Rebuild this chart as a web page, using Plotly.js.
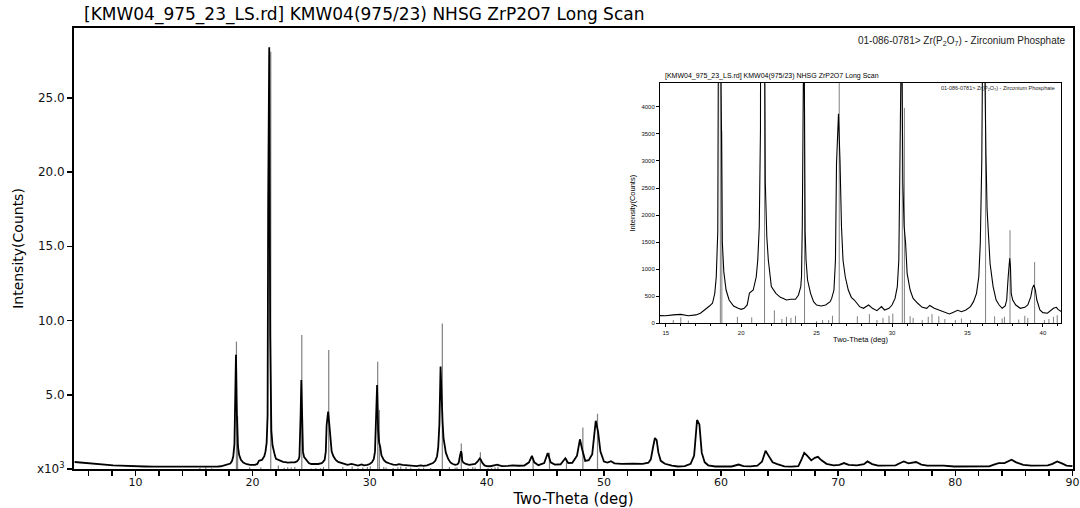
<!DOCTYPE html>
<html><head><meta charset="utf-8">
<script src="https://cdn.plot.ly/plotly-3.0.1.min.js"></script>
<style>html,body{margin:0;padding:0;background:#fff}#chart{width:1080px;height:508px}</style>
</head><body><div id="chart"></div>
<script>
// Measured scan: 2-theta (deg) and intensity (counts)
const twoTheta = [4.8,5.3,5.8,6.5,7.0,7.6,8.1,8.7,9.2,10.0,10.8,11.6,12.4,13.2,14.0,14.62,15.0,15.5,16.0,16.5,17.0,17.3,17.6,17.9,18.0,18.1,18.25,18.35,18.45,18.5,18.58,18.66,18.75,18.85,19.0,19.2,19.5,19.8,20.0,20.2,20.4,20.55,20.65,20.8,21.0,21.1,21.2,21.28,21.33,21.42,21.5,21.6,21.7,21.8,21.9,22.0,22.3,22.6,22.8,23.0,23.3,23.6,23.8,23.95,24.0,24.05,24.1,24.16,24.24,24.3,24.4,24.6,24.8,25.0,25.3,25.6,25.9,26.0,26.15,26.25,26.32,26.38,26.45,26.55,26.65,26.75,26.9,27.1,27.3,27.5,27.66,27.85,28.1,28.45,28.7,29.0,29.3,29.5,29.8,30.0,30.2,30.35,30.45,30.55,30.63,30.72,30.8,30.9,31.0,31.2,31.4,31.7,32.0,32.3,32.5,32.8,33.1,33.5,33.8,34.0,34.35,34.6,34.9,35.2,35.4,35.6,35.75,35.85,35.95,36.05,36.15,36.22,36.3,36.4,36.5,36.7,36.9,37.1,37.3,37.5,37.6,37.7,37.75,37.8,37.85,37.9,38.0,38.2,38.5,38.8,39.0,39.2,39.3,39.4,39.5,39.6,39.8,40.0,40.3,40.5,40.7,40.9,41.0,41.3,41.8,42.2,42.7,43.2,43.6,43.85,44.05,44.4,44.9,45.2,45.45,45.8,46.3,46.7,46.95,47.3,47.7,47.95,48.15,48.4,48.7,49.0,49.3,49.5,49.7,50.0,50.3,50.6,50.9,51.5,52.5,53.3,53.8,54.0,54.2,54.35,54.5,54.65,54.85,55.2,55.8,56.3,56.9,57.4,57.7,57.95,58.15,58.35,58.6,58.9,59.5,60.2,60.9,61.5,61.9,62.5,63.1,63.5,63.8,64.05,64.4,64.8,65.4,66.0,66.6,66.9,67.1,67.35,67.7,68.0,68.27,68.55,69.0,69.6,70.1,70.5,70.9,71.6,72.2,72.5,72.9,73.4,74.2,74.9,75.3,75.6,76.0,76.3,76.65,77.1,77.6,78.3,79.0,79.9,80.8,81.8,82.3,82.9,83.3,83.7,84.2,84.5,84.8,85.2,85.8,86.5,87.2,87.9,88.3,88.7,89.1,89.5,90.0];
const counts = [470,430,390,340,310,280,250,225,205,185,170,160,155,150,150,135,140,155,165,140,155,185,245,320,345,370,550,860,1700,6000,7700,3600,1500,950,615,430,320,277,258,277,340,560,585,615,860,1170,1780,3600,17900,28400,9000,2600,1600,1170,920,677,554,480,460,430,443,443,523,677,860,1785,3630,6000,1700,1170,800,554,400,338,320,338,400,460,615,1170,2950,3630,3870,3015,1785,1170,860,615,480,430,380,308,277,338,277,234,308,246,277,338,460,677,1170,3630,5660,2600,1800,1477,923,615,460,370,295,277,330,277,246,215,172,197,240,215,246,308,400,554,860,1477,3015,6900,4100,3200,2100,1500,1100,677,430,338,277,320,430,860,1100,1200,1046,554,430,338,277,295,338,492,646,710,615,430,246,197,185,234,277,295,258,200,210,250,220,230,450,880,450,260,400,1080,450,300,320,720,400,420,900,2000,1300,550,600,1000,3250,2500,1170,500,430,520,380,350,360,350,420,650,1500,2090,1950,1100,550,350,220,170,190,350,900,3300,3000,1100,460,250,170,160,170,300,190,180,230,500,1230,900,450,330,180,160,200,700,1090,900,580,750,820,600,350,250,280,400,280,250,330,510,330,230,230,250,400,510,380,420,470,300,230,230,230,170,160,200,170,180,300,390,400,520,630,450,280,230,240,240,350,510,380,230,190];

// Reference pattern 01-086-0781 Zr(P2O7): stick positions (deg) and heights (counts)
const refPos = [15.5,16.0,16.5,18.62,18.72,19.75,20.7,21.55,22.2,22.7,23.0,23.3,23.6,24.2,25.0,25.4,25.8,26.05,26.5,27.7,28.5,29.0,29.4,29.8,30.05,30.68,30.82,31.2,31.4,32.0,32.4,32.65,33.1,33.5,34.2,34.6,35.2,36.2,36.8,37.3,37.45,37.82,38.4,38.8,39.0,39.45,40.1,40.4,40.7,40.95,43.95,45.35,46.8,48.2,49.45];
const refInt = [60,110,50,8580,3560,120,110,28100,240,80,120,100,140,9030,40,60,60,140,8020,130,170,60,100,140,180,7230,3980,130,100,60,120,170,130,80,60,90,60,9800,130,90,120,1720,70,140,100,1130,60,80,120,150,700,1100,720,2790,3720];

// Tick labels
const mainYTickVals = [0,5000,10000,15000,20000,25000];
const mainYTickText = ["x10<sup>3</sup>","5.0","10.0","15.0","20.0","25.0"];
const insetXTicks = [15,20,25,30,35,40];
const insetYTicks = [0,500,1000,1500,2000,2500,3000,3500,4000];

const titleText = "[KMW04_975_23_LS.rd] KMW04(975/23) NHSG ZrP2O7 Long Scan";
const refText = "01-086-0781> Zr(P<sub>2</sub>O<sub>7</sub>) - Zirconium Phosphate";

// build stick segments
const sx = [], sy = [];
refPos.forEach((p,i)=>{ sx.push(p,p,null); sy.push(0,refInt[i],null); });

const F = 'DejaVu Sans, sans-serif';
const FL = 'Liberation Sans, Arial, sans-serif';

const traces = [
  {type:'scatter', mode:'lines', x:sx, y:sy, xaxis:'x', yaxis:'y', line:{color:'#808080', width:1.2}, hoverinfo:'skip'},
  {type:'scatter', mode:'lines', x:twoTheta, y:counts, xaxis:'x', yaxis:'y', line:{color:'#000', width:1.8}},
  {type:'scatter', mode:'lines', x:sx, y:sy, xaxis:'x2', yaxis:'y2', line:{color:'#808080', width:1}, hoverinfo:'skip'},
  {type:'scatter', mode:'lines', x:twoTheta, y:counts, xaxis:'x2', yaxis:'y2', line:{color:'#000', width:1.1}}
];

const px = v => (v-74)/999;
const py = v => (469-v)/441;

const layout = {
  width:1080, height:508,
  margin:{l:74, r:7, t:28, b:39},
  paper_bgcolor:'#fff', plot_bgcolor:'#fff',
  showlegend:false,
  title:{text:titleText, x:84/1080, xanchor:'left', xref:'container', y:1-14/508, yref:'container', yanchor:'middle', font:{family:F, size:17, color:'#000'}},
  xaxis:{domain:[0,1], range:[4.75,90.05], showline:true, linewidth:2, linecolor:'#000', mirror:true,
    ticks:'outside', ticklen:5, tickwidth:1.5, tickcolor:'#000', tickmode:'linear', tick0:0, dtick:10,
    minor:{dtick:2, tick0:0, ticks:'outside', ticklen:5, tickwidth:1.5, tickcolor:'#000'},
    showgrid:false, zeroline:false, automargin:false, ticklabelstandoff:-3,
    tickfont:{family:F, size:11, color:'#111'},
    title:{text:'Two-Theta (deg)', font:{family:F, size:15, color:'#000'}, standoff:8}},
  yaxis:{domain:[0,1], range:[0,29700], showline:true, linewidth:2, linecolor:'#000', mirror:true,
    ticks:'outside', ticklen:5, tickwidth:1.5, tickcolor:'#000',
    tickmode:'array', tickvals:mainYTickVals, ticktext:mainYTickText,
    showgrid:false, zeroline:false, automargin:false,
    tickfont:{family:F, size:12, color:'#111'},
    title:{text:'Intensity(Counts)', font:{family:F, size:14, color:'#000'}, standoff:10}},
  xaxis2:{anchor:'y2', domain:[px(660), px(1061)], range:[14.62,41.2], showline:true, linewidth:1, linecolor:'#000', mirror:true,
    ticks:'outside', ticklen:3, tickwidth:1, tickcolor:'#000', tickmode:'array', tickvals:insetXTicks,
    minor:{dtick:1, tick0:0, ticks:'outside', ticklen:2, tickwidth:1, tickcolor:'#000'},
    showgrid:false, zeroline:false, automargin:false,
    tickfont:{family:FL, size:6, color:'#111'},
    title:{text:'Two-Theta (deg)', font:{family:FL, size:7.5, color:'#000'}, standoff:2}},
  yaxis2:{anchor:'x2', domain:[py(323.3), py(83)], range:[0,4440], showline:true, linewidth:1, linecolor:'#000', mirror:true,
    ticks:'outside', ticklen:3, tickwidth:1, tickcolor:'#000', tickmode:'array', tickvals:insetYTicks,
    showgrid:false, zeroline:false, automargin:false,
    tickfont:{family:FL, size:6, color:'#111'},
    title:{text:'Intensity(Counts)', font:{family:FL, size:7.5, color:'#000'}, standoff:4}},
  annotations:[
    {xref:'paper', yref:'paper', x:px(1068), y:py(41), xanchor:'right', yanchor:'middle', showarrow:false, text:refText, font:{family:FL, size:10, color:'#222'}},
    {xref:'paper', yref:'paper', x:px(663), y:py(76), xanchor:'left', yanchor:'middle', showarrow:false, text:titleText, font:{family:FL, size:7, color:'#000'}},
    {xref:'paper', yref:'paper', x:px(1057), y:py(88), xanchor:'right', yanchor:'middle', showarrow:false, text:refText, font:{family:FL, size:5.5, color:'#222'}}
  ]
};

Plotly.newPlot('chart', traces, layout, {displayModeBar:false, staticPlot:true});
</script>
</body></html>
